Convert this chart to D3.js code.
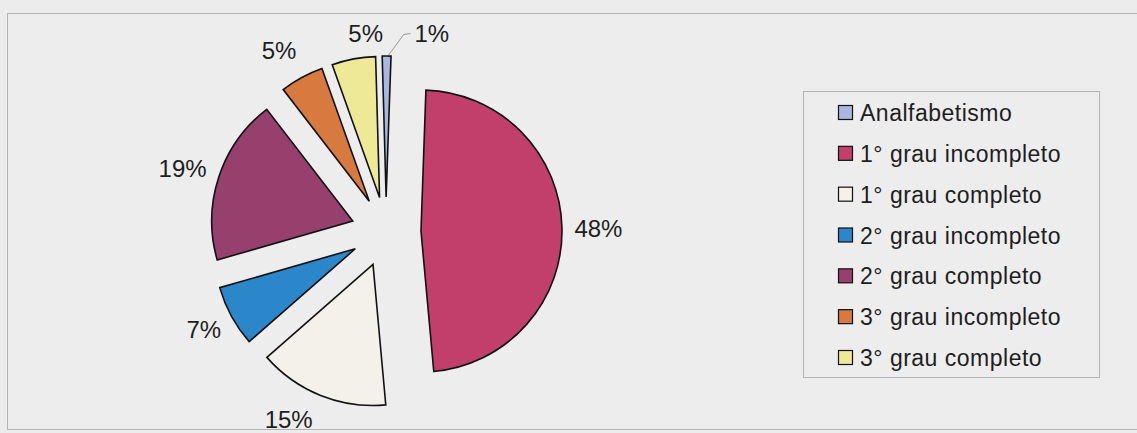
<!DOCTYPE html>
<html>
<head>
<meta charset="utf-8">
<script src="https://cdn.jsdelivr.net/npm/d3@7"></script>
<style>
  html, body { margin: 0; padding: 0; background: #ececec; }
  svg { display: block; }
  text { font-family: "Liberation Sans", Arial, sans-serif; fill: #1e1e1e; }
</style>
</head>
<body>
<svg id="chart" width="1137" height="433"></svg>
<script>
// Escolaridade — distribuição percentual
const categories = [
  "Analfabetismo",
  "1° grau incompleto",
  "1° grau completo",
  "2° grau incompleto",
  "2° grau completo",
  "3° grau incompleto",
  "3° grau completo"
];
const values = [1, 48, 15, 7, 19, 5, 5];
const labels = ["1%", "48%", "15%", "7%", "19%", "5%", "5%"];
const colors = ["#a9b6de", "#c23f6c", "#f3f1ea", "#2b87c9", "#973f6d", "#d8793f", "#ede996"];

const svg = d3.select("#chart");
const W = 1137, H = 433;

// chart frame
svg.append("rect")
  .attr("x", 7.5).attr("y", 13.5)
  .attr("width", W + 10).attr("height", 416)
  .attr("fill", "#ededed").attr("stroke", "#b4b4b4").attr("stroke-width", 1);

// pie geometry
const cx = 386, cy = 232, radius = 141, explode = 35, labelRadius = 211;
const rot = -1.6 * Math.PI / 180;

const pie = d3.pie().sort(null).value(d => d)
  .startAngle(rot).endAngle(rot + 2 * Math.PI);
const arcs = pie(values);
const arc = d3.arc().innerRadius(0).outerRadius(radius);

const g = svg.append("g").attr("transform", `translate(${cx},${cy})`);

const mid = a => (a.startAngle + a.endAngle) / 2;

g.selectAll("path.slice")
  .data(arcs)
  .join("path")
  .attr("class", "slice")
  .attr("transform", a => {
    const m = mid(a);
    return `translate(${explode * Math.sin(m)},${-explode * Math.cos(m)})`;
  })
  .attr("d", arc)
  .attr("fill", (a, i) => colors[i])
  .attr("stroke", "#111")
  .attr("stroke-width", 1.6)
  .attr("stroke-linejoin", "miter");

// label placement: along each slice's mid angle, with small shifts to avoid crowding
const labelShift = [[45, 12.5], [1.5, 2.5], [-19, -8], [3, -3.5], [-3, 2], [-6, 4], [18.5, 9]];
const labelPos = arcs.map((a, i) => {
  const m = mid(a);
  return [labelRadius * Math.sin(m) + labelShift[i][0], -labelRadius * Math.cos(m) + labelShift[i][1]];
});

g.selectAll("text.pct")
  .data(arcs)
  .join("text")
  .attr("class", "pct")
  .attr("x", (a, i) => labelPos[i][0])
  .attr("y", (a, i) => labelPos[i][1])
  .attr("dy", "0.35em")
  .attr("text-anchor", "middle")
  .attr("font-size", 24)
  .text((a, i) => labels[i]);

// leader line for the smallest slice
{
  const a = arcs[0], m = mid(a);
  const tip = [(explode + radius) * Math.sin(m), -(explode + radius) * Math.cos(m)];
  const lx = labelPos[0][0] - 21, ly = labelPos[0][1];
  g.append("path")
    .attr("d", d3.line()([[lx, ly], [lx - 7, ly + 1], [tip[0] + 2, tip[1] - 1]]))
    .attr("fill", "none")
    .attr("stroke", "#9a9a9a")
    .attr("stroke-width", 1);
}

// legend
const legend = svg.append("g");
legend.append("rect")
  .attr("x", 803.5).attr("y", 91.5)
  .attr("width", 296).attr("height", 286)
  .attr("fill", "#ededed").attr("stroke", "#b4b4b4").attr("stroke-width", 1);

const rowY = d3.scalePoint().domain(d3.range(categories.length)).range([113, 358]);

const rows = legend.selectAll("g.row")
  .data(categories)
  .join("g")
  .attr("class", "row")
  .attr("transform", (d, i) => `translate(0,${rowY(i)})`);

rows.append("rect")
  .attr("x", 838.5).attr("y", -7.5)
  .attr("width", 14).attr("height", 14)
  .attr("fill", (d, i) => colors[i])
  .attr("stroke", "#111").attr("stroke-width", 1.2);

rows.append("text")
  .attr("x", 860)
  .attr("y", 0)
  .attr("dy", "0.35em")
  .attr("font-size", 23)
  .attr("letter-spacing", 0.5)
  .text(d => d);
</script>
</body>
</html>
